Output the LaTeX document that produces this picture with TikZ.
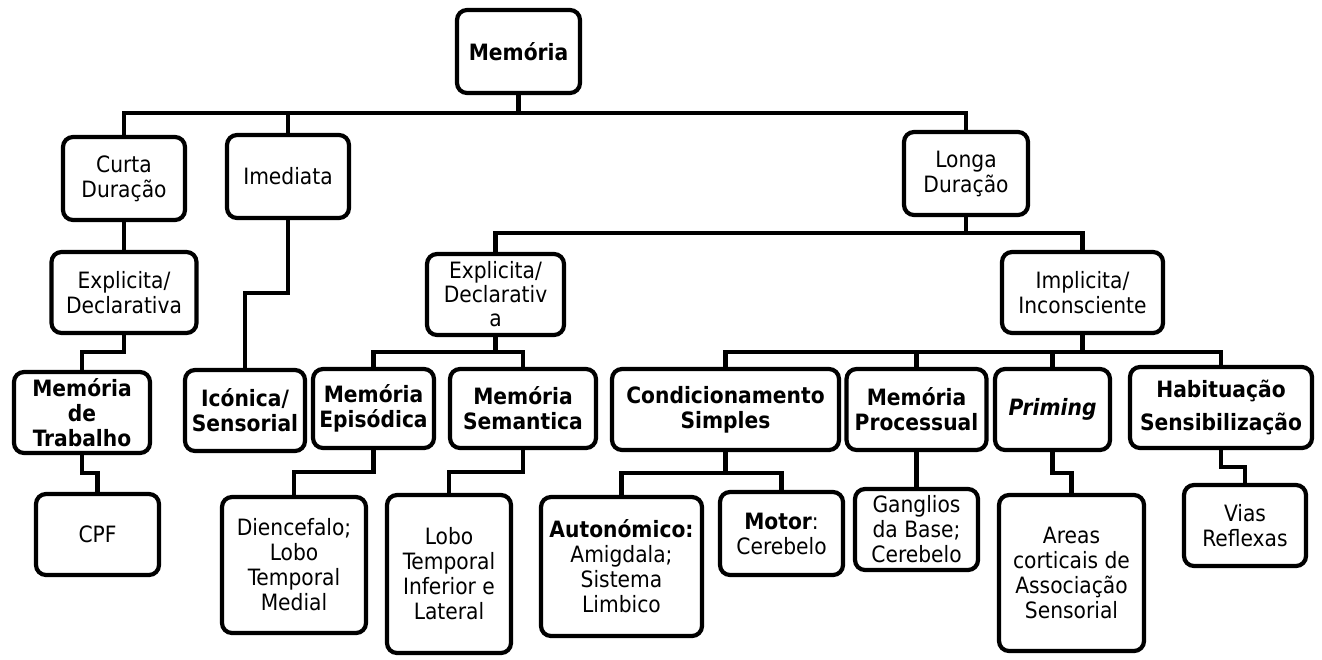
\documentclass[tikz,border=0pt]{standalone}
\usepackage{fontspec}
\setmainfont{DejaVu Sans Condensed}
\tikzset{
  membox/.style={draw,line width=4.2pt,rounded corners=10pt,align=center,inner sep=0pt,
    font=\fontsize{22.5}{25}\selectfont},
  link/.style={draw,line width=4.2pt},
}
\begin{document}
\begin{tikzpicture}[x=1pt,y=-1pt]
\useasboundingbox (0,0) rectangle (1322,659);

% topo
\node[membox,minimum width=123pt,minimum height=83pt] (mem) at (518.5,51.5) {\textbf{Memória}};

\node[membox,minimum width=122pt,minimum height=83pt] (curta) at (124,178.5) {Curta\\Duração};
\node[membox,minimum width=122pt,minimum height=83pt] (imed) at (288,176.5) {Imediata};
\node[membox,minimum width=124pt,minimum height=83pt] (longa) at (966,173.5) {Longa\\Duração};

\node[membox,minimum width=145pt,minimum height=81pt] (expl1) at (124,292.5) {Explicita/\\Declarativa};
\node[membox,minimum width=137pt,minimum height=81pt,font=\fontsize{22.5}{24}\selectfont] (expl2) at (495.5,294.5) {Explicita/\\Declarativ\\a};
\node[membox,minimum width=161pt,minimum height=81pt] (impl) at (1082.5,292.5) {Implicita/\\Inconsciente};

% terceiro nivel
\node[membox,minimum width=136pt,minimum height=81pt] (trab) at (82,412.5) {\textbf{Memória}\\\textbf{de}\\\textbf{Trabalho}};
\node[membox,minimum width=120pt,minimum height=81pt] (icon) at (245,410.5) {\textbf{Icónica/}\\\textbf{Sensorial}};
\node[membox,minimum width=121pt,minimum height=79pt] (epis) at (373.5,408.5) {\textbf{Memória}\\\textbf{Episódica}};
\node[membox,minimum width=146pt,minimum height=79pt] (sem) at (523,408.5) {\textbf{Memória}\\\textbf{Semantica}};
\node[membox,minimum width=227pt,minimum height=81pt] (cond) at (725.5,409.5) {\textbf{Condicionamento}\\\textbf{Simples}};
\node[membox,minimum width=140pt,minimum height=81pt] (proc) at (916.5,409.5) {\textbf{Memória}\\\textbf{Processual}};
\node[membox,minimum width=115pt,minimum height=81pt] (prim) at (1052.5,409.5) {\textbf{\textit{Priming}}};
\node[membox,minimum width=182pt,minimum height=81pt] (hab) at (1221,407.5) {\textbf{Habituação}\\[8pt]\textbf{Sensibilização}};

% areas cerebrais
\node[membox,minimum width=123pt,minimum height=81pt] (cpf) at (97.5,534.5) {CPF};
\node[membox,minimum width=144pt,minimum height=136pt] (dien) at (294,565) {Diencefalo;\\Lobo\\Temporal\\Medial};
\node[membox,minimum width=124pt,minimum height=158pt] (lobo) at (449,574) {Lobo\\Temporal\\Inferior e\\Lateral};
\node[membox,minimum width=161pt,minimum height=139pt] (auton) at (621.5,566.5) {\textbf{Autonómico:}\\Amigdala;\\Sistema\\Limbico};
\node[membox,minimum width=123pt,minimum height=83pt] (motor) at (781.5,533.5) {\textbf{Motor}:\\Cerebelo};
\node[membox,minimum width=123pt,minimum height=81pt] (gang) at (916.5,529.5) {Ganglios\\da Base;\\Cerebelo};
\node[membox,minimum width=145pt,minimum height=156pt] (areas) at (1071.5,573) {Areas\\corticais de\\Associação\\Sensorial};
\node[membox,minimum width=122pt,minimum height=81pt] (vias) at (1245,525.5) {Vias\\Reflexas};

% ligacoes
\draw[link] (mem.south) -- ++(0,18) -| (curta.north);
\draw[link] (mem.south) -- ++(0,18) -| (imed.north);
\draw[link] (mem.south) -- ++(0,18) -| (longa.north);
\draw[link] (curta.south) -- (expl1.north);
\draw[link] (imed.south) -- ++(0,73) -| (icon.north);
\draw[link] (longa.south) -- ++(0,16) -| (expl2.north);
\draw[link] (longa.south) -- ++(0,16) -| (impl.north);
\draw[link] (expl1.south) -- ++(0,17) -| (trab.north);
\draw[link] (trab.south) -- ++(0,18) -| (cpf.north);
\draw[link] (expl2.south) -- ++(0,15) -| (epis.north);
\draw[link] (expl2.south) -- ++(0,15) -| (sem.north);
\draw[link] (epis.south) -- ++(0,22) -| (dien.north);
\draw[link] (sem.south) -- ++(0,22) -| (lobo.north);
\draw[link] (impl.south) -- ++(0,17) -| (cond.north);
\draw[link] (impl.south) -- ++(0,17) -| (proc.north);
\draw[link] (impl.south) -- ++(0,17) -| (prim.north);
\draw[link] (impl.south) -- ++(0,17) -| (hab.north);
\draw[link] (cond.south) -- ++(0,21) -| (auton.north);
\draw[link] (cond.south) -- ++(0,21) -| (motor.north);
\draw[link] (proc.south) -- (gang.north);
\draw[link] (prim.south) -- ++(0,21) -| (areas.north);
\draw[link] (hab.south) -- ++(0,17) -| (vias.north);

\end{tikzpicture}
\end{document}
